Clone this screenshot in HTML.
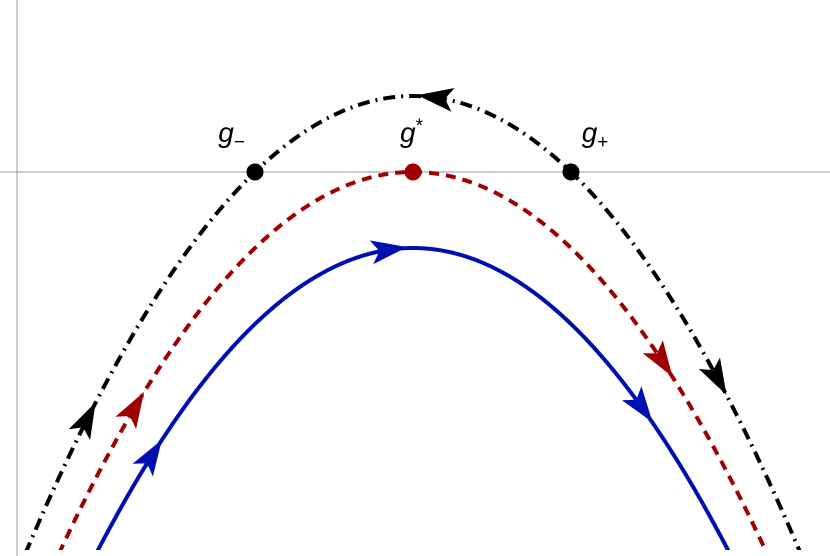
<!DOCTYPE html>
<html><head><meta charset="utf-8"><style>
html,body{margin:0;padding:0;background:#fff;width:830px;height:556px;overflow:hidden;}
svg{display:block;}
text{font-family:"Liberation Sans",sans-serif;font-style:italic;font-size:28px;}
</style></head><body>
<svg id="chart" width="830" height="556">
<defs><clipPath id="clip"><rect x="0" y="0" width="830" height="550"/></clipPath></defs>
<line x1="17" y1="0" x2="17" y2="556" stroke="#999" stroke-width="1"/>
<line x1="0" y1="172" x2="830" y2="172" stroke="#999" stroke-width="1"/>
<g id="curves" clip-path="url(#clip)"></g>
<g id="marks"></g>
</svg>
<script>
const curveNames = ['black-orbit','red-orbit','blue-orbit'];
const curveOffsets = [1, 0, -1];
const curveColors = ['#000','#a00000','#0010b0'];
const curveDashes = ['12 6 2 6','10 7','none'];
const arrowCurve = [0,0,0,1,1,2,2,2];
const arrowX = [-2.06,0.14,1.93,-1.76,1.58,-1.65,-0.15,1.45];
const arrowDir = [1,-1,1,1,1,1,1,1];
const pointCurve = [0,0,1];
const pointX = [-1,1,0];
const labelText = ['g','g','g'];
const labelSub = ['−','+','*'];
const labelX = [-1.15,1.15,0];

const X0=413, Y0=172, SX=158, SY=76;
const px = x => X0 + SX*x;
const py = y => Y0 - SY*y;
const f = (c,x) => c - x*x;
const ns='http://www.w3.org/2000/svg';
const cg=document.getElementById('curves'), mg=document.getElementById('marks');

curveOffsets.forEach((c,i)=>{
  let d='';
  for(let x=-2.7;x<=2.7001;x+=0.01){d+=(d?'L':'M')+px(x).toFixed(2)+','+py(f(c,x)).toFixed(2);}
  const p=document.createElementNS(ns,'path');
  p.setAttribute('d',d);p.setAttribute('fill','none');
  p.setAttribute('stroke',curveColors[i]);p.setAttribute('stroke-width','4');
  if(curveDashes[i]!=='none')p.setAttribute('stroke-dasharray',curveDashes[i]);
  
  
  cg.appendChild(p);
});

arrowX.forEach((x,k)=>{
  const c=curveOffsets[arrowCurve[k]];
  const x1=px(x), y1=py(f(c,x));
  let dx=SX, dy=-SY*(-2*x);
  const L=Math.hypot(dx,dy); dx=dx/L*arrowDir[k]; dy=dy/L*arrowDir[k];
  const nx=-dy, ny=dx, len=36, hw=12, notch=8;
  const tip=[x1+dx*len/2,y1+dy*len/2];
  const b=[x1-dx*len/2,y1-dy*len/2];
  const n=[x1-dx*(len/2-notch),y1-dy*(len/2-notch)];
  const pts=[tip,[b[0]+nx*hw,b[1]+ny*hw],n,[b[0]-nx*hw,b[1]-ny*hw]];
  const a=document.createElementNS(ns,'polygon');
  a.setAttribute('points',pts.map(p=>p[0].toFixed(1)+','+p[1].toFixed(1)).join(' '));
  a.setAttribute('fill',curveColors[arrowCurve[k]]);
  
  
  mg.appendChild(a);
});

pointX.forEach((x,k)=>{
  const c=curveOffsets[pointCurve[k]];
  const e=document.createElementNS(ns,'circle');
  e.setAttribute('cx',px(x));e.setAttribute('cy',py(f(c,x)));e.setAttribute('r','8.5');
  e.setAttribute('fill',curveColors[pointCurve[k]]);
  
  
  mg.appendChild(e);
});

labelX.forEach((x,k)=>{
  const t=document.createElementNS(ns,'text');
  t.setAttribute('x',px(x)-13);t.setAttribute('y',142);
  t.textContent=labelText[k];
  const s=document.createElementNS(ns,'tspan');
  s.textContent=labelSub[k];
  s.setAttribute('font-size','19');s.setAttribute('font-style','normal');
  s.setAttribute('dy',labelSub[k]==='*'?'-10':'6');
  t.appendChild(s);
  
  
  mg.appendChild(t);
});
</script>
</body></html>
